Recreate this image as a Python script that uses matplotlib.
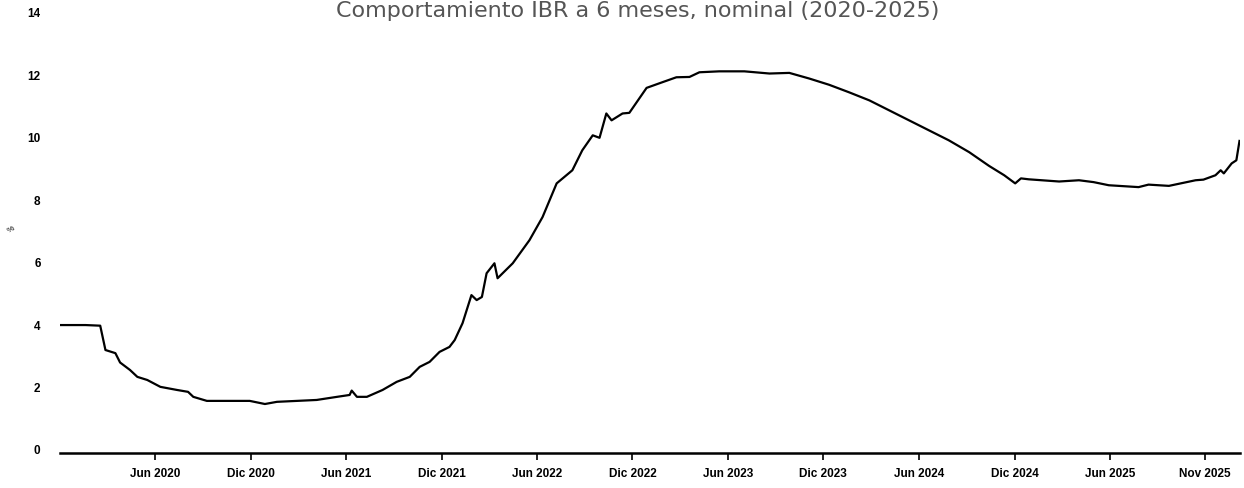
import pandas as pd
import matplotlib.pyplot as plt

plt.rcParams['font.family'] = ['Liberation Sans', 'DejaVu Sans']

# IBR 6 meses nominal
fechas = [
    '2019-12-03', '2020-01-20', '2020-02-17', '2020-02-27', '2020-03-17', '2020-03-26',
    '2020-04-14', '2020-04-28', '2020-05-17', '2020-06-11', '2020-07-13', '2020-08-03',
    '2020-08-13', '2020-09-08', '2020-11-29', '2020-12-28', '2021-01-20', '2021-04-06',
    '2021-05-15', '2021-06-08', '2021-06-12', '2021-06-22', '2021-07-11', '2021-08-10',
    '2021-09-06', '2021-10-01', '2021-10-20', '2021-11-08', '2021-11-27', '2021-12-16',
    '2021-12-26', '2022-01-10', '2022-01-27', '2022-02-06', '2022-02-16', '2022-02-25',
    '2022-03-12', '2022-03-18', '2022-04-16', '2022-05-18', '2022-06-12', '2022-07-09',
    '2022-08-08', '2022-08-27', '2022-09-16', '2022-09-29', '2022-10-12', '2022-10-22',
    '2022-11-12', '2022-11-25', '2022-12-28', '2023-01-27', '2023-02-23', '2023-03-20',
    '2023-04-08', '2023-05-16', '2023-07-03', '2023-08-20', '2023-09-27', '2023-11-04',
    '2023-12-12', '2024-01-19', '2024-02-27', '2024-04-05', '2024-05-13', '2024-06-20',
    '2024-07-28', '2024-09-05', '2024-10-13', '2024-11-11', '2024-12-02', '2024-12-13',
    '2024-12-28', '2025-02-24', '2025-04-03', '2025-05-01', '2025-05-30', '2025-07-26',
    '2025-08-14', '2025-09-22', '2025-11-12', '2025-11-27', '2025-12-20', '2025-12-30',
    '2026-01-05', '2026-01-20', '2026-01-29', '2026-02-04',
]
ibr = [
    4.00, 4.00, 3.98, 3.20, 3.10, 2.80,
    2.56, 2.34, 2.24, 2.02, 1.92, 1.86,
    1.70, 1.57, 1.57, 1.47, 1.54, 1.60,
    1.70, 1.76, 1.90, 1.70, 1.70, 1.92,
    2.18, 2.34, 2.66, 2.82, 3.14, 3.30,
    3.52, 4.06, 4.96, 4.80, 4.90, 5.66,
    5.98, 5.50, 5.98, 6.72, 7.46, 8.54,
    8.96, 9.60, 10.08, 10.00, 10.78, 10.56,
    10.78, 10.80, 11.60, 11.78, 11.94, 11.95,
    12.10, 12.13, 12.13, 12.06, 12.08, 11.90,
    11.70, 11.46, 11.20, 10.88, 10.56, 10.24,
    9.92, 9.54, 9.10, 8.80, 8.54, 8.70,
    8.67, 8.60, 8.64, 8.58, 8.48, 8.42,
    8.50, 8.46, 8.64, 8.66, 8.80, 8.96,
    8.86, 9.18, 9.28, 9.90,
]
tick_fechas = ['2020-06-01', '2020-12-01', '2021-06-01', '2021-12-01', '2022-06-01',
               '2022-12-01', '2023-06-01', '2023-12-01', '2024-06-01', '2024-12-01',
               '2025-06-01', '2025-11-30']
tick_labels = ['Jun 2020', 'Dic 2020', 'Jun 2021', 'Dic 2021', 'Jun 2022', 'Dic 2022',
               'Jun 2023', 'Dic 2023', 'Jun 2024', 'Dic 2024', 'Jun 2025', 'Nov 2025']
y_ticks = [0, 2, 4, 6, 8, 10, 12, 14]

df = pd.DataFrame({'fecha': pd.to_datetime(fechas), 'ibr': ibr})

fig = plt.figure(figsize=(12.44, 4.88), dpi=100)
ax = fig.add_axes([0.0482, 0.0717, 0.9486, 0.9017])

ax.plot(df['fecha'], df['ibr'], color='black', linewidth=1.6)

ax.set_xlim(pd.Timestamp('2019-12-02'), pd.Timestamp('2026-02-05'))
ax.set_ylim(-0.1, 14)

ax.set_xticks(pd.to_datetime(tick_fechas))
ax.set_xticklabels(tick_labels, fontsize=8.5, fontweight='bold')
ax.set_yticks(y_ticks)
ax.set_yticklabels([str(v) for v in y_ticks], fontsize=8.5, fontweight='bold')

ax.tick_params(axis='x', length=5, width=1.2, color='black', pad=6)
ax.tick_params(axis='y', length=0, pad=14)

for side in ['top', 'right', 'left']:
    ax.spines[side].set_visible(False)
ax.spines['bottom'].set_linewidth(1.8)

ax.set_ylabel('%', fontsize=6, rotation=30, labelpad=10)

# Titulo pegado al borde superior
fig.text(0.513, 0.997, 'Comportamiento IBR a 6 meses, nominal (2020-2025)',
         ha='center', va='top', fontsize=16, color='#555555',
         family=['DejaVu Sans'])

plt.savefig('out.png', dpi=100)
